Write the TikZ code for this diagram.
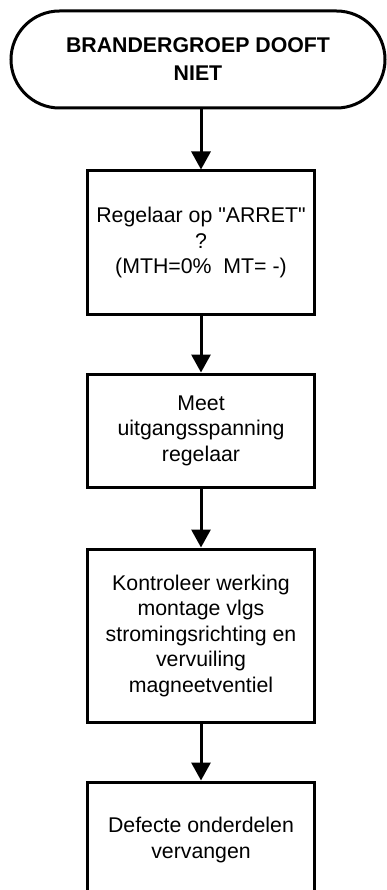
\documentclass[tikz,border=0pt]{standalone}
\usepackage{fontspec}
\setmainfont{Liberation Sans}
\usetikzlibrary{arrows.meta,shapes.misc}
\begin{document}
\begin{tikzpicture}[x=1pt,y=-1pt,
  every node/.style={font=\fontsize{21.3}{25.5}\selectfont, align=center, inner sep=0pt},
  procbox/.style={draw, line width=3pt, rectangle, minimum width=227pt},
  term/.style={draw, line width=3pt, rounded rectangle, minimum width=374pt, minimum height=97pt},
  flow/.style={line width=3pt, -{Triangle[width=19pt,length=18pt]}}]
\useasboundingbox (0,0) rectangle (387,890);
\node[term, font=\fontsize{21.3}{28}\selectfont\bfseries] (t) at (198,59.5) {BRANDERGROEP DOOFT\\NIET};
\node[procbox, minimum height=143pt] (b1) at (201,242.5) {Regelaar op \textquotedbl ARRET\textquotedbl\\?\\(MTH=0\%~~MT= -)};
\node[procbox, minimum height=113pt] (b2) at (201,430.5) {Meet\\uitgangsspanning\\regelaar};
\node[procbox, minimum height=173pt] (b3) at (201,635.5) {Kontroleer werking\\montage vlgs\\stromingsrichting en\\vervuiling\\magneetventiel};
\node[procbox, minimum height=116pt] (b4) at (201,840) {Defecte onderdelen\\vervangen};
\draw[flow] (b1.north |- t.south) -- (b1.north);
\draw[flow] (b1.south) -- (b2.north);
\draw[flow] (b2.south) -- (b3.north);
\draw[flow] (b3.south) -- (b4.north);
\end{tikzpicture}
\end{document}
